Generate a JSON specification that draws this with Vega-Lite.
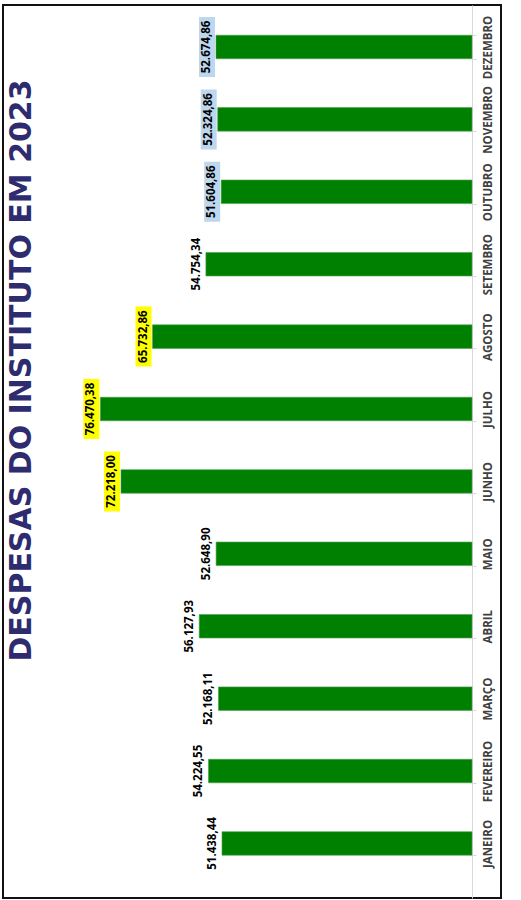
{
  "$schema": "https://vega.github.io/schema/vega-lite/v6.json",
  "width": 498,
  "height": 893,
  "autosize": {"type": "none"},
  "padding": {"left": 3, "top": 5, "right": 20, "bottom": 2},
  "background": "#ffffff",
  "config": {
    "view": {"stroke": "#111111", "strokeWidth": 2},
    "locale": {"number": {"decimal": ",", "thousands": ".", "grouping": [3], "currency": ["R$ ", ""]}}
  },
  "title": {
    "text": "DESPESAS DO INSTITUTO EM 2023",
    "orient": "left",
    "anchor": "middle",
    "frame": "group",
    "font": "DejaVu Sans",
    "fontSize": 30,
    "fontWeight": "bold",
    "color": "#2E2C6E",
    "offset": -34,
    "dx": 81
  },
  "data": {
    "values": [
      {"mes": "JANEIRO", "valor": 51438.44, "grupo": "normal"},
      {"mes": "FEVEREIRO", "valor": 54224.55, "grupo": "normal"},
      {"mes": "MARÇO", "valor": 52168.11, "grupo": "normal"},
      {"mes": "ABRIL", "valor": 56127.93, "grupo": "normal"},
      {"mes": "MAIO", "valor": 52648.90, "grupo": "normal"},
      {"mes": "JUNHO", "valor": 72218.00, "grupo": "alto"},
      {"mes": "JULHO", "valor": 76470.38, "grupo": "alto"},
      {"mes": "AGOSTO", "valor": 65732.86, "grupo": "alto"},
      {"mes": "SETEMBRO", "valor": 54754.34, "grupo": "normal"},
      {"mes": "OUTUBRO", "valor": 51604.86, "grupo": "recente"},
      {"mes": "NOVEMBRO", "valor": 52324.86, "grupo": "recente"},
      {"mes": "DEZEMBRO", "valor": 52674.86, "grupo": "recente"}
    ]
  },
  "encoding": {
    "y": {
      "field": "mes",
      "type": "nominal",
      "sort": ["DEZEMBRO", "NOVEMBRO", "OUTUBRO", "SETEMBRO", "AGOSTO", "JULHO", "JUNHO", "MAIO", "ABRIL", "MARÇO", "FEVEREIRO", "JANEIRO"],
      "scale": {"paddingInner": 0.675, "paddingOuter": 0.504, "align": 0.414},
      "axis": {
        "orient": "right",
        "offset": -29,
        "title": null,
        "domainColor": "#D9D9D9",
        "tickColor": "#D9D9D9",
        "tickSize": 4,
        "tickBand": "extent",
        "labelAngle": 270,
        "labelAlign": "center",
        "labelBaseline": "top",
        "labelPadding": 6,
        "labelFont": "Open Sans",
        "labelFontWeight": "bold",
        "labelFontSize": 11.5,
        "labelColor": "#404040"
      }
    },
    "x": {
      "field": "valor",
      "type": "quantitative",
      "scale": {"domain": [0, 96500], "range": [469, 0]},
      "axis": null
    }
  },
  "layer": [
    {
      "mark": {"type": "bar", "color": "#008000", "stroke": "#4c9f4c", "strokeWidth": 0.6}
    },
    {
      "transform": [{"filter": "datum.grupo != 'normal'"}],
      "mark": {"type": "tick", "orient": "vertical", "size": 60, "thickness": 16, "xOffset": -9, "opacity": 1},
      "encoding": {
        "color": {
          "field": "grupo",
          "type": "nominal",
          "scale": {"domain": ["alto", "recente"], "range": ["#FFFF00", "#BDD7EE"]},
          "legend": null
        }
      }
    },
    {
      "mark": {"type": "text", "angle": 270, "align": "center", "baseline": "middle", "xOffset": -9, "font": "Open Sans", "fontWeight": "bold", "fontSize": 11.5, "color": "#000000"},
      "encoding": {
        "text": {"field": "valor", "type": "quantitative", "format": ",.2f"}
      }
    }
  ]
}
